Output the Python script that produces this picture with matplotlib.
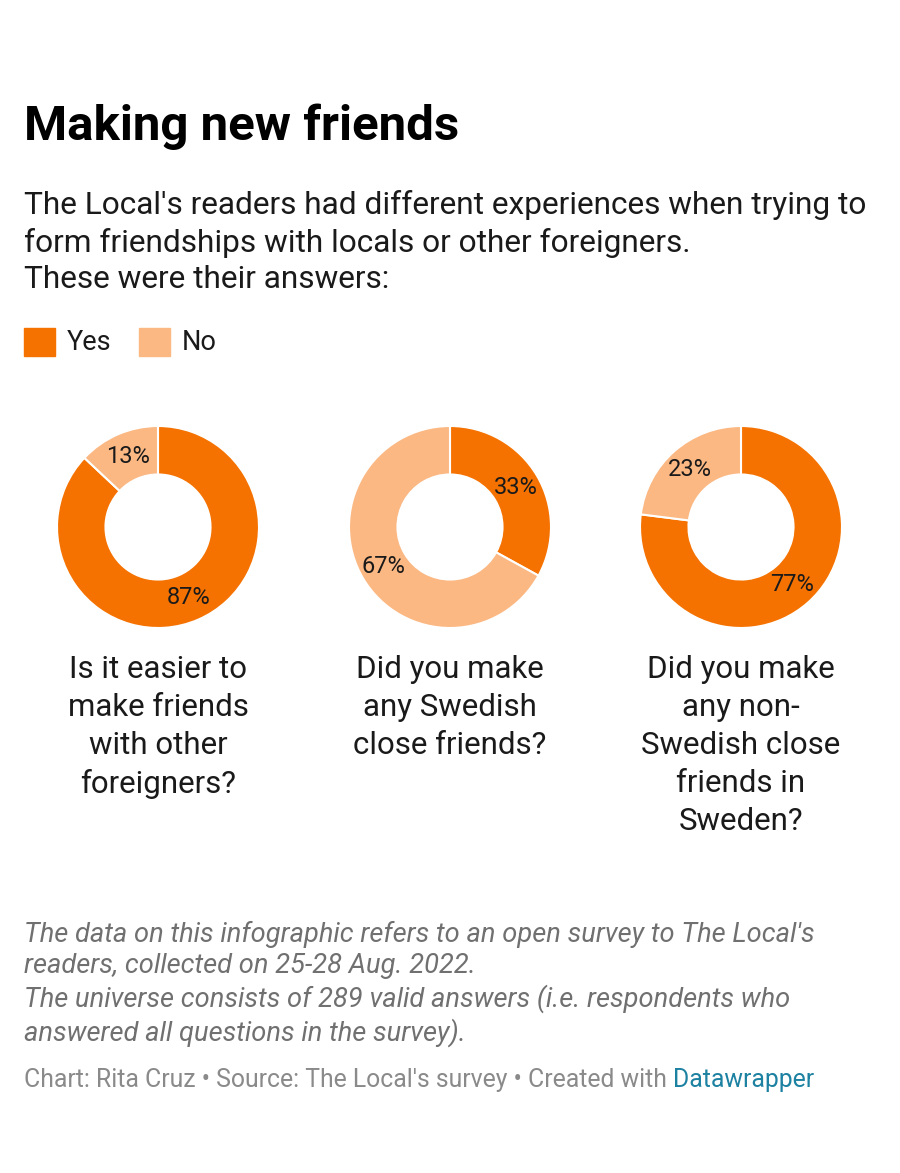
import matplotlib.pyplot as plt

plt.rcParams['font.family'] = ['Roboto', 'DejaVu Sans']

questions = ["Is it easier to\nmake friends\nwith other\nforeigners?",
             "Did you make\nany Swedish\nclose friends?",
             "Did you make\nany non-\nSwedish close\nfriends in\nSweden?"]
yes = [87, 33, 77]
no = [13, 67, 23]
labels = ["Yes", "No"]
colors = ["#f57200", "#fbb883"]

W, H = 900, 1173
fig = plt.figure(figsize=(9, 11.73), dpi=100)

def fx(x): return x / W
def fy(y): return 1 - y / H

fig.text(fx(24), fy(127), "Making new friends", fontsize=35.5, fontweight='bold', va='center')
fig.text(fx(24), fy(242), "The Local's readers had different experiences when trying to\n"
         "form friendships with locals or other foreigners.\nThese were their answers:",
         fontsize=22.8, va='center', linespacing=1.34, color='#1a1a1a')

# legend
for i, (lab, c) in enumerate(zip(labels, colors)):
    x0 = 24 + i * 115
    fig.patches.append(plt.Rectangle((fx(x0), fy(356)), fx(31), 28 / H, color=c,
                                     transform=fig.transFigure))
    fig.text(fx(x0 + 43), fy(342), lab, fontsize=19.5, va='center', color='#1a1a1a')

centers = [158, 450, 741]
r = 101
for cx, q, y, n in zip(centers, questions, yes, no):
    ax = fig.add_axes([fx(cx - r), fy(527 + r), 2 * r / W, 2 * r / H])
    wedges, texts = ax.pie([y, n], colors=colors, startangle=90, counterclock=False,
                           wedgeprops=dict(width=0.48, edgecolor='white', linewidth=1.5),
                           labels=[f"{y}%", f"{n}%"], labeldistance=0.76,
                           textprops=dict(fontsize=17, ha='center', va='center', color='#1a1a1a'))
    ax.set_xlim(-1, 1)
    ax.set_ylim(-1, 1)
    ax.set_aspect('equal')
    fig.text(fx(cx), fy(655), q, fontsize=22.5, ha='center', va='top',
             linespacing=1.39, color='#1a1a1a')

fig.text(fx(24), fy(984), "The data on this infographic refers to an open survey to The Local's\n"
         "readers, collected on 25-28 Aug. 2022.\n"
         "The universe consists of 289 valid answers (i.e. respondents who\n"
         "answered all questions in the survey).",
         fontsize=19.6, style='italic', color='#707070', va='center', linespacing=1.24)
t = fig.text(fx(24), fy(1080), "Chart: Rita Cruz \u2022 Source: The Local's survey \u2022 Created with ",
             fontsize=17.8, color='#8a8a8a', va='center')
fig.canvas.draw()
bb = t.get_window_extent()
fig.text(bb.x1 / W, fy(1080), "Datawrapper", fontsize=17.8, color='#1d81a2', va='center')

fig.savefig("out.png", dpi=100, facecolor='white')
